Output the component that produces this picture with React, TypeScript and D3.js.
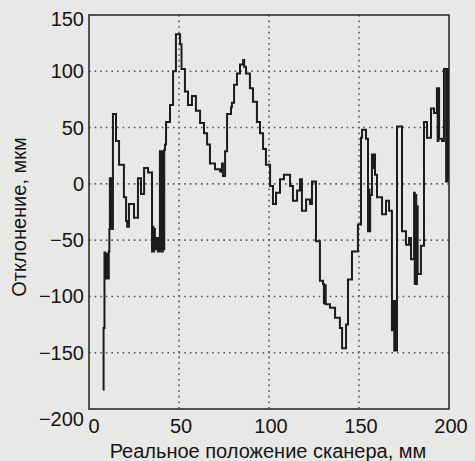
import React, { useEffect, useRef } from 'react';
import * as d3 from 'd3';

// scanner position, mm (step starts)
const positionMm = [
  7.8, 8.1, 8.6, 9.0, 9.4, 9.8, 10.2, 10.6, 11.0, 11.3, 11.6, 12.0, 12.4, 12.8, 13.3, 15.0, 16.7, 19.4,
  20.6, 21.2, 22.2, 25.0, 27.2, 28.9, 30.6, 32.8, 35.0, 35.4, 35.8, 36.2, 36.6, 37.2, 38.3, 39.4, 39.8,
  40.2, 40.6, 41.0, 41.4, 41.8, 42.2, 42.8, 45.0, 46.7, 48.3, 50.6, 51.4, 53.3, 55.0, 57.2, 59.4, 61.7,
  63.9, 65.6, 67.2, 70.0, 72.8, 73.9, 74.4, 75.6, 76.7, 78.9, 79.4, 80.6, 82.2, 83.9, 85.6, 86.2, 87.2,
  89.4, 91.1, 93.3, 95.0, 96.7, 98.3, 100.6, 102.2, 103.9, 106.1, 108.3, 111.7, 113.3, 115.6, 117.2,
  118.3, 120.6, 122.8, 123.9, 126.1, 128.3, 130.0, 130.5, 131.0, 131.5, 133.9, 136.7, 139.4, 140.6,
  142.8, 143.9, 146.1, 149.4, 151.1, 151.7, 153.9, 155.0, 155.4, 155.8, 156.2, 157.2, 157.6, 158.0,
  158.9, 160.0, 162.8, 165.0, 166.7, 168.3, 169.2, 169.6, 170.0, 170.4, 171.1, 173.9, 176.1, 177.8,
  178.9, 180.6, 181.0, 181.4, 181.8, 182.2, 182.6, 184.4, 186.1, 187.8, 190.0, 191.7, 193.3, 193.7,
  194.1, 194.5, 196.1, 197.2, 198.4, 198.8, 199.4, 199.6
];

// deviation, um
const deviationUm = [
  -183, -128, -61, -84, -62, -84, -62, -84, -60, -40, 5, -38, 5, -40, 62, 38, 17, -12,
  -33, -38, -18, -30, 5, -9, 14, 10, -60, -38, -60, -40, -58, -48, -60, 29, -58,
  29, -60, 29, -58, 30, 35, 55, 70, 100, 133, 124, 102, 82, 70, 78, 65, 54,
  45, 35, 18, 13, 11, 18, 7, 29, 62, 68, 72, 88, 98, 106, 110, 104, 98,
  85, 73, 55, 45, 31, 17, -2, -18, -8, 4, 8, -2, -15, -6, 4,
  -24, -14, -18, 2, -51, -86, -89, -106, -90, -107, -110, -119, -128, -146,
  -125, -85, -60, -36, 41, 48, 40, -42, -5, -42, -10, 26, 14, 26,
  8, -12, -27, -15, -24, -130, -104, -148, -104, -148, 51, -42, -54, -48,
  -67, -8, -89, -10, -89, -20, -80, -55, 55, 41, 67, 63, 85, 38,
  85, 40, 38, 102, 2, 102, 2, 2
];

const xTicks = [0, 50, 100, 150, 200];
const yTicks = [150, 100, 50, 0, -50, -100, -150, -200];
const xGrid = [50, 100, 150];
const yGrid = [100, 50, 0, -50, -100, -150];

const xTitle = 'Реальное положение сканера, мм';
const yTitle = 'Отклонение, мкм';

const W = 475, H = 461;

export default function App() {
  const ref = useRef<SVGSVGElement>(null);

  useEffect(() => {
    const svg = d3.select(ref.current);
    svg.selectAll('*').remove();

    const margin = { top: 15, left: 89, right: 26, bottom: 52 };
    const x = d3.scaleLinear().domain([0, 200]).range([margin.left, W - margin.right]);
    const y = d3.scaleLinear().domain([-200, 150]).range([H - margin.bottom, margin.top]);

    svg.append('rect').attr('width', W).attr('height', H).attr('fill', '#e8e8e6');

    const font = 'Liberation Sans, Arial, sans-serif';

    // dotted grid
    svg.append('g').selectAll('line').data(xGrid).enter().append('line')
      .attr('x1', d => x(d)).attr('x2', d => x(d))
      .attr('y1', y(150)).attr('y2', y(-200))
      .attr('stroke', '#555').attr('stroke-width', 1.6)
      .attr('stroke-dasharray', '1.6,4');

    svg.append('g').selectAll('line').data(yGrid).enter().append('line')
      .attr('x1', x(0)).attr('x2', x(200))
      .attr('y1', d => y(d)).attr('y2', d => y(d))
      .attr('stroke', '#555').attr('stroke-width', 1.6)
      .attr('stroke-dasharray', '1.6,4');

    // trace
    const pts: [number, number][] = positionMm.map((p, i) => [p, deviationUm[i]]);
    const line = d3.line<[number, number]>()
      .x(d => x(d[0]))
      .y(d => y(d[1]))
      .curve(d3.curveStepAfter);

    svg.append('path')
      .attr('d', line(pts))
      .attr('fill', 'none')
      .attr('stroke', '#1c1c1c')
      .attr('stroke-width', 2)
      .attr('stroke-linejoin', 'miter');

    // frame
    svg.append('rect')
      .attr('x', x(0)).attr('y', y(150))
      .attr('width', x(200) - x(0)).attr('height', y(-200) - y(150))
      .attr('fill', 'none').attr('stroke', '#222').attr('stroke-width', 1.5);

    // tick labels
    svg.append('g').selectAll('text').data(yTicks).enter().append('text')
      .attr('x', 84)
      .attr('y', d => y(d) + 7 + (d === -200 ? 10 : d === 150 ? 4 : 0))
      .attr('text-anchor', 'end')
      .attr('font-family', font).attr('font-size', 20).attr('fill', '#151515')
      .text(d => d3.format('')(d).replace('-', '\u2212'));

    svg.append('g').selectAll('text').data(xTicks).enter().append('text')
      .attr('x', d => x(d) + (d === 0 ? 5 : 2))
      .attr('y', 433)
      .attr('text-anchor', 'middle')
      .attr('font-family', font).attr('font-size', 20).attr('fill', '#151515')
      .text(d => d);

    // axis titles
    svg.append('text')
      .attr('x', 268).attr('y', 458)
      .attr('text-anchor', 'middle')
      .attr('font-family', font).attr('font-size', 20).attr('fill', '#151515')
      .text(xTitle);

    svg.append('text')
      .attr('transform', 'translate(26,217) rotate(-90)')
      .attr('text-anchor', 'middle')
      .attr('font-family', font).attr('font-size', 20).attr('fill', '#151515')
      .text(yTitle);
  }, []);

  return (
    <div style={{ position: 'fixed', left: 0, top: 0 }}>
      <svg ref={ref} width={W} height={H} style={{ display: 'block' }} />
    </div>
  );
}
